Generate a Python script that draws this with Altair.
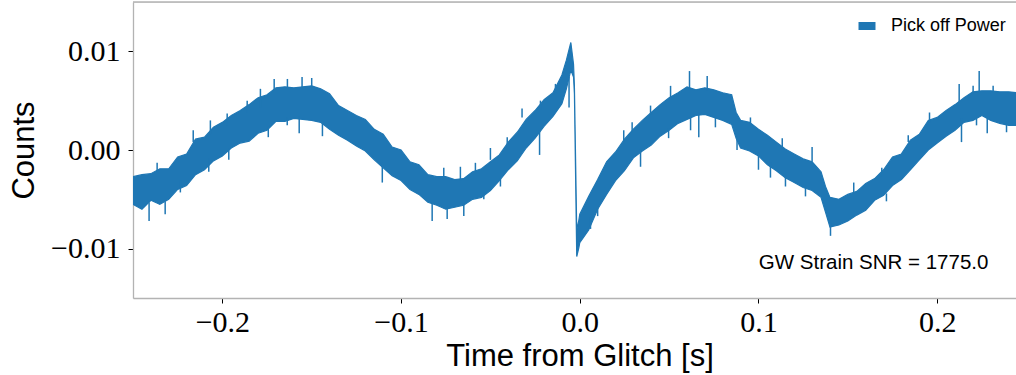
import altair as alt
import pandas as pd

# ---- data ----
t_s = [-0.250, -0.245, -0.240, -0.235, -0.230, -0.225, -0.220, -0.215, -0.210, -0.205,
       -0.200, -0.195, -0.190, -0.185, -0.180, -0.175, -0.170, -0.165, -0.160, -0.155,
       -0.150, -0.145, -0.140, -0.135, -0.130, -0.125, -0.120, -0.115, -0.110, -0.105,
       -0.100, -0.095, -0.090, -0.085, -0.080, -0.075, -0.070, -0.065, -0.060, -0.055,
       -0.050, -0.045, -0.040, -0.035, -0.030, -0.025, -0.020, -0.015, -0.010, -0.0075,
       -0.005, -0.0035, -0.003, -0.0017, -0.0005, 0.000, 0.005, 0.010, 0.015, 0.020,
       0.025, 0.030, 0.035, 0.040, 0.045, 0.050, 0.055, 0.060, 0.065, 0.070,
       0.075, 0.080, 0.085, 0.0875, 0.090, 0.095, 0.100, 0.105, 0.110, 0.115,
       0.120, 0.125, 0.130, 0.135, 0.1375, 0.140, 0.145, 0.150, 0.155, 0.160,
       0.165, 0.170, 0.175, 0.180, 0.185, 0.190, 0.195, 0.200, 0.205, 0.210,
       0.215, 0.220, 0.225, 0.230, 0.235, 0.240, 0.245]

# upper / lower edge of the dense noise band
upper = [-0.0027, -0.0025, -0.0024, -0.0019, -0.0019, -0.0007, -0.0004, 0.0011, 0.0013, 0.0023,
         0.0028, 0.0035, 0.0040, 0.0046, 0.0053, 0.0056, 0.0063, 0.0064, 0.0063, 0.0064,
         0.0065, 0.0062, 0.0057, 0.0045, 0.0040, 0.0035, 0.0031, 0.0021, 0.0016, 0.0003,
         0.0000, -0.0012, -0.0015, -0.0025, -0.0027, -0.0027, -0.0030, -0.0029, -0.0022, -0.0019,
         -0.0012, -0.0005, 0.0008, 0.0018, 0.0031, 0.0040, 0.0051, 0.0058, 0.0076, 0.0091,
         0.0109, 0.0087, 0.0065, -0.0081, -0.0071, -0.0065, -0.0047, -0.0030, -0.0012, -0.0002,
         0.0011, 0.0021, 0.0030, 0.0038, 0.0046, 0.0053, 0.0058, 0.0064, 0.0061, 0.0063,
         0.0061, 0.0058, 0.0056, 0.0038, 0.0030, 0.0028, 0.0021, 0.0015, 0.0008, 0.0001,
         -0.0004, -0.0009, -0.0012, -0.0022, -0.0037, -0.0048, -0.0050, -0.0045, -0.0042, -0.0034,
         -0.0029, -0.0020, -0.0007, -0.0004, 0.0010, 0.0016, 0.0030, 0.0033, 0.0040, 0.0046,
         0.0053, 0.0059, 0.0060, 0.0060, 0.0059, 0.0059, 0.0058]

lower = [-0.0055, -0.0060, -0.0051, -0.0055, -0.0050, -0.0040, -0.0036, -0.0025, -0.0020, -0.0011,
         -0.0006, 0.0002, 0.0007, 0.0009, 0.0017, 0.0020, 0.0029, 0.0029, 0.0032, 0.0031,
         0.0030, 0.0028, 0.0021, 0.0015, 0.0010, 0.0004, -0.0001, -0.0010, -0.0018, -0.0026,
         -0.0031, -0.0040, -0.0045, -0.0053, -0.0056, -0.0060, -0.0058, -0.0056, -0.0050, -0.0048,
         -0.0041, -0.0031, -0.0020, -0.0011, 0.0002, 0.0012, 0.0024, 0.0034, 0.0047, 0.0062,
         0.0081, 0.0074, 0.0057, -0.0108, -0.0099, -0.0094, -0.0081, -0.0060, -0.0045, -0.0031,
         -0.0021, -0.0008, -0.0001, 0.0005, 0.0014, 0.0020, 0.0027, 0.0031, 0.0035, 0.0036,
         0.0033, 0.0030, 0.0026, 0.0012, 0.0002, -0.0001, -0.0006, -0.0015, -0.0021, -0.0028,
         -0.0033, -0.0038, -0.0041, -0.0048, -0.0063, -0.0078, -0.0076, -0.0072, -0.0066, -0.0061,
         -0.0051, -0.0046, -0.0036, -0.0030, -0.0020, -0.0010, 0.0000, 0.0007, 0.0014, 0.0020,
         0.0028, 0.0030, 0.0035, 0.0030, 0.0027, 0.0025, 0.0025]

# individual noise spikes: time, value where the spike leaves the band, value at its tip
spike_t = [-0.241, -0.2365, -0.232, -0.2163, -0.1743, -0.171, -0.1636, -0.1554, -0.150, -0.157,
           -0.144, -0.1105, -0.0826, -0.0742, -0.050, -0.0323, -0.0225, -0.006, 0.006, 0.0614,
           0.0713, 0.0666, 0.100, 0.1067, 0.130, 0.1263, 0.1403, 0.1957, 0.2123, 0.2235,
           0.2136, 0.228,
           -0.2067, -0.1973, -0.1861, -0.1787, -0.2235, -0.2076, -0.1964, -0.1637,
           0.0246, 0.0293, 0.0396, 0.0508, 0.034, 0.0497, 0.062, 0.0759, 0.088, 0.010,
           0.0955, 0.1133, 0.1533, 0.169, 0.1151,
           0.1838, 0.2201, 0.2313, 0.1716, 0.222, 0.2388,
           -0.0761, -0.0668, -0.0584, -0.0406, -0.022, -0.0136, -0.0649, -0.0444, -0.0537]
spike_base = [-0.0053, -0.0022, -0.0052, 0.0008, 0.0024, 0.0060, 0.0062, 0.0062, 0.0063, 0.0034,
              0.0030, -0.0013, -0.0053, -0.0056, -0.0010, 0.0033, 0.0020, 0.0074, -0.0068, 0.0062,
              0.0060, 0.0037, -0.0003, -0.0013, -0.0012, -0.0036, -0.0073, 0.0028, 0.0048, 0.0058,
              0.0032, 0.0032,
              0.0016, 0.0025, 0.0038, 0.0043, -0.0031, -0.0008, 0.0002, 0.0033,
              0.0009, 0.0019, 0.0036, 0.0051, 0.0001, 0.0022, 0.0033, 0.0035, 0.0014, -0.0058,
              0.0026, 0.0001, -0.0044, -0.0027, -0.0026,
              0.0008, 0.0057, 0.0058, -0.0044, 0.0032, 0.0027,
              -0.0029, -0.0031, -0.0022, 0.0006, 0.0041, 0.0058, -0.0054, -0.0029, -0.0043]
spike_tip = [-0.0072, -0.0013, -0.0065, 0.0020, 0.0013, 0.0072, 0.0072, 0.0074, 0.0073, 0.0017,
             0.0014, -0.0033, -0.0072, -0.0070, 0.0002, 0.0042, -0.0005, 0.0043, -0.0080, 0.0080,
             0.0075, 0.0013, -0.0020, -0.0028, 0.0003, -0.0047, -0.0087, 0.0038, 0.0067, 0.0080,
             0.0008, 0.0017,
             0.0030, 0.0037, 0.0050, 0.0062, -0.0043, -0.0022, -0.0010, 0.0025,
             0.0020, 0.0028, 0.0045, 0.0065, -0.0017, 0.0012, 0.0020, 0.0023, 0.0000, -0.0067,
             0.0033, 0.0012, -0.0033, -0.0018, -0.0037,
             0.0015, 0.0065, 0.0065, -0.0052, 0.0025, 0.0018,
             -0.0018, -0.0017, -0.0013, 0.0013, 0.0050, 0.0067, -0.0067, -0.0037, -0.0050]

series_name = "Pick off Power"
annotation = "GW Strain SNR = 1775.0"
x_ticks = [-0.2, -0.1, 0.0, 0.1, 0.2]
y_ticks = [-0.01, 0.0, 0.01]

BLUE = "#1f77b4"
FRAME = "#b3b3b3"
X_MIN, X_MAX = -0.25, 0.2441
Y_MIN, Y_MAX = -0.015, 0.015

band_df = pd.DataFrame({"t": t_s, "upper": upper, "lower": lower, "series": series_name})
spike_df = pd.DataFrame({"t": spike_t, "base": spike_base, "tip": spike_tip})
one_row = pd.DataFrame({"label": [annotation]})

x_scale = alt.Scale(domain=[X_MIN, X_MAX], nice=False, zero=False)
y_scale = alt.Scale(domain=[Y_MIN, Y_MAX], nice=False, zero=False)

x_axis = alt.Axis(
    values=x_ticks,
    labelExpr="datum.value < -0.00001 ? '\u2212' + format(-datum.value, '.1f') : format(abs(datum.value), '.1f')",
    labelFont="Liberation Serif", labelFontSize=30, labelColor="#000000",
    labelPadding=4, tickSize=5, tickColor="#000000", tickWidth=1,
    domainColor=FRAME, domainWidth=1.3, grid=False,
    title="Time from Glitch [s]", titleFont="Liberation Sans", titleFontSize=31,
    titleFontWeight="normal", titleColor="#000000",
    titleX=446.5, titleY=67, titleAlign="center", titleBaseline="alphabetic",
)
y_axis = alt.Axis(
    values=y_ticks,
    labelExpr="datum.value < -0.00001 ? '\u2212' + format(-datum.value, '.2f') : format(abs(datum.value), '.2f')",
    labelFont="Liberation Serif", labelFontSize=30, labelColor="#000000",
    labelPadding=8, tickSize=5, tickColor="#000000", tickWidth=1,
    domainColor=FRAME, domainWidth=1.3, grid=False,
    title="Counts", titleFont="Liberation Sans", titleFontSize=31,
    titleFontWeight="normal", titleColor="#000000",
    titleX=-100, titleY=148, titleAngle=270, titleAlign="center", titleBaseline="alphabetic",
)

band = alt.Chart(band_df).mark_area(
    clip=True, opacity=1, strokeWidth=1.2, interpolate="linear"
).encode(
    x=alt.X("t:Q", scale=x_scale, axis=x_axis),
    y=alt.Y("upper:Q", scale=y_scale, axis=y_axis),
    y2="lower:Q",
    color=alt.Color(
        "series:N",
        scale=alt.Scale(range=[BLUE]),
        legend=alt.Legend(
            title=None, orient="none", legendX=725, legendY=15, padding=0,
            symbolType="M-1,-0.47L1,-0.47L1,0.47L-1,0.47Z", symbolSize=289,
            symbolStrokeWidth=0, symbolOpacity=1, labelOffset=15,
            labelFont="Liberation Sans", labelFontSize=18, labelColor="#000000",
        ),
    ),
    stroke=alt.Stroke("series:N", scale=alt.Scale(range=[BLUE]), legend=None),
)

spikes = alt.Chart(spike_df).mark_rule(clip=True, color=BLUE, strokeWidth=1.5).encode(
    x=alt.X("t:Q", scale=x_scale),
    y=alt.Y("base:Q", scale=y_scale),
    y2="tip:Q",
)

# top edge of the axes frame (the right edge falls outside the picture)
top_frame = alt.Chart(one_row).mark_rule(color=FRAME, strokeWidth=1.3).encode(
    x=alt.datum(X_MIN, scale=x_scale),
    x2=alt.datum(X_MAX),
    y=alt.datum(Y_MAX, scale=y_scale),
)

label = alt.Chart(one_row).mark_text(
    align="left", baseline="alphabetic",
    font="Liberation Sans", fontSize=20.5, color="#000000",
).encode(
    x=alt.datum(0.1002),
    y=alt.datum(-0.0121),
    text="label:N",
)

chart = alt.layer(band, spikes, top_frame, label).properties(
    width=883, height=296,
    padding={"left": 133, "top": 2, "right": 0, "bottom": 77},
    autosize=alt.AutoSizeParams(type="none"),
).configure_view(stroke=None).configure(background="white")

chart.save("out.html", embed_options={"renderer": "svg", "actions": False})
